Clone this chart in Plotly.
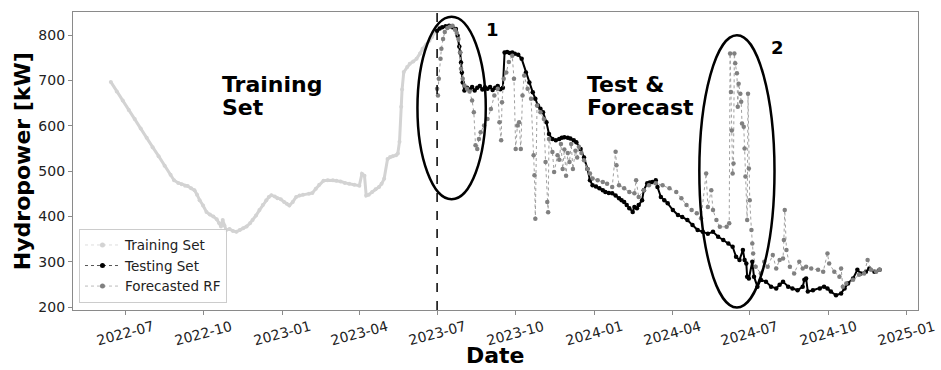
import plotly.graph_objects as go

# ---------------- data ----------------
train_dates = [
    "2022-06-14", "2022-06-21", "2022-06-28", "2022-07-05", "2022-07-12", "2022-07-19", "2022-07-26",
    "2022-08-02", "2022-08-09", "2022-08-16", "2022-08-23", "2022-08-27", "2022-09-01", "2022-09-05",
    "2022-09-09", "2022-09-12", "2022-09-16", "2022-09-20", "2022-09-23", "2022-09-26", "2022-09-30",
    "2022-10-04", "2022-10-08", "2022-10-12", "2022-10-16", "2022-10-19", "2022-10-21", "2022-10-23",
    "2022-10-25", "2022-10-27", "2022-10-31", "2022-11-04", "2022-11-08", "2022-11-12", "2022-11-16",
    "2022-11-20", "2022-11-24", "2022-11-27", "2022-12-01", "2022-12-05", "2022-12-09", "2022-12-13",
    "2022-12-16", "2022-12-19", "2022-12-23", "2022-12-26", "2022-12-30", "2023-01-03", "2023-01-06",
    "2023-01-09", "2023-01-13", "2023-01-17", "2023-01-21", "2023-01-25", "2023-02-01", "2023-02-05",
    "2023-02-09", "2023-02-13", "2023-02-18", "2023-02-23", "2023-03-01", "2023-03-05", "2023-03-10",
    "2023-03-15", "2023-03-20", "2023-03-26", "2023-04-01", "2023-04-04", "2023-04-07", "2023-04-09",
    "2023-04-12", "2023-04-16", "2023-04-20", "2023-04-24", "2023-04-27", "2023-04-30", "2023-05-04",
    "2023-05-07", "2023-05-10", "2023-05-14", "2023-05-16", "2023-05-18", "2023-05-20", "2023-05-21",
    "2023-05-23", "2023-05-27", "2023-05-30", "2023-06-03", "2023-06-07", "2023-06-11", "2023-06-14",
    "2023-06-18", "2023-06-22", "2023-06-25", "2023-06-28",
]
train_vals = [
    697, 676, 656, 635, 615, 594, 574,
    553, 533, 512, 492, 480, 474, 471,
    468, 467, 462, 458, 448, 436, 424,
    410, 404, 400, 394, 385, 378, 392,
    380, 370, 372, 368, 366, 370, 374,
    378, 385, 392, 402, 414, 425, 436,
    443, 447, 444, 440, 438, 432, 428,
    424, 432, 443, 446, 448, 450, 452,
    461, 470, 479, 480, 480, 479, 477,
    474, 472, 470, 468, 494, 490, 446,
    448, 454, 460, 465, 472, 483, 527,
    531, 533, 535, 539, 565, 642, 680,
    719, 730, 737, 742, 748, 760, 770,
    779, 788, 796, 806,
]

test_dates = [
    "2023-07-01", "2023-07-04", "2023-07-07", "2023-07-11", "2023-07-15", "2023-07-19", "2023-07-23",
    "2023-07-25", "2023-07-27", "2023-07-28", "2023-07-29", "2023-07-30", "2023-07-31", "2023-08-02",
    "2023-08-05", "2023-08-08", "2023-08-11", "2023-08-14", "2023-08-17", "2023-08-20", "2023-08-23",
    "2023-08-26", "2023-08-29", "2023-09-01", "2023-09-04", "2023-09-07", "2023-09-10", "2023-09-13",
    "2023-09-16", "2023-09-18", "2023-09-21", "2023-09-24", "2023-09-27", "2023-09-30", "2023-10-04",
    "2023-10-08", "2023-10-13", "2023-10-17", "2023-10-21", "2023-10-24", "2023-10-27", "2023-10-30",
    "2023-11-02", "2023-11-06", "2023-11-09", "2023-11-13", "2023-11-17", "2023-11-21", "2023-11-24",
    "2023-11-27", "2023-12-01", "2023-12-04", "2023-12-08", "2023-12-11", "2023-12-16", "2023-12-20",
    "2023-12-24", "2023-12-27", "2023-12-30", "2024-01-03", "2024-01-07", "2024-01-11", "2024-01-14",
    "2024-01-18", "2024-01-22", "2024-01-26", "2024-01-30", "2024-02-02", "2024-02-05", "2024-02-08",
    "2024-02-11", "2024-02-15", "2024-02-17", "2024-02-20", "2024-02-22", "2024-02-26", "2024-02-28",
    "2024-03-03", "2024-03-06", "2024-03-09", "2024-03-13", "2024-03-15", "2024-03-19", "2024-03-23",
    "2024-03-27", "2024-04-02", "2024-04-08", "2024-04-13", "2024-04-19", "2024-04-25", "2024-05-01",
    "2024-05-07", "2024-05-13", "2024-05-19", "2024-05-25", "2024-05-31", "2024-06-06", "2024-06-11",
    "2024-06-15", "2024-06-19", "2024-06-23", "2024-06-25", "2024-06-27", "2024-06-28", "2024-06-30",
    "2024-07-04", "2024-07-06", "2024-07-10", "2024-07-14", "2024-07-20", "2024-07-26", "2024-08-01",
    "2024-08-05", "2024-08-09", "2024-08-15", "2024-08-20", "2024-08-26", "2024-09-01", "2024-09-03",
    "2024-09-05", "2024-09-07", "2024-09-13", "2024-09-21", "2024-09-26", "2024-09-30", "2024-10-04",
    "2024-10-10", "2024-10-16", "2024-10-20", "2024-10-24", "2024-10-30", "2024-11-04", "2024-11-08",
    "2024-11-14", "2024-11-18", "2024-11-24", "2024-11-30",
]
test_vals = [
    810, 815, 818, 820, 821, 818, 814,
    799, 775, 762, 740, 718, 696, 678,
    684, 680, 686, 678, 684, 688, 680,
    685, 682, 686, 679, 684, 688, 681,
    684, 762, 763, 761, 762, 759, 757,
    748, 718, 696, 674, 660, 645, 638,
    630, 608, 582, 571, 568, 571, 574,
    575, 574, 572, 568, 564, 549, 530,
    505, 480, 469, 466, 462, 458, 454,
    452, 451, 446, 440, 436, 432, 425,
    418, 410, 421, 418, 425, 436, 458,
    473, 475, 476, 480, 465, 443, 436,
    429, 414, 403, 399, 392, 381, 370,
    366, 362, 366, 355, 348, 340, 333,
    311, 304, 326, 304, 296, 267, 263,
    300, 267, 245, 260, 256, 245, 241,
    249, 256, 245, 241, 237, 245, 260,
    263, 234, 237, 241, 245, 241, 234,
    226, 230, 241, 252, 263, 282, 274,
    278, 285, 278, 282,
]

fc_dates = [
    "2023-07-01", "2023-07-02", "2023-07-03", "2023-07-05", "2023-07-06", "2023-07-08", "2023-07-10",
    "2023-07-13", "2023-07-16", "2023-07-19", "2023-07-22", "2023-07-24", "2023-07-26", "2023-07-28",
    "2023-07-29", "2023-07-31", "2023-08-02", "2023-08-05", "2023-08-08", "2023-08-11", "2023-08-13",
    "2023-08-15", "2023-08-17", "2023-08-19", "2023-08-21", "2023-08-25", "2023-08-29", "2023-09-02",
    "2023-09-06", "2023-09-10", "2023-09-12", "2023-09-14", "2023-09-15", "2023-09-17", "2023-09-20",
    "2023-09-23", "2023-09-27", "2023-09-29", "2023-10-01", "2023-10-03", "2023-10-05", "2023-10-07",
    "2023-10-09", "2023-10-11", "2023-10-15", "2023-10-19", "2023-10-22", "2023-10-23", "2023-10-24",
    "2023-10-26", "2023-10-30", "2023-11-03", "2023-11-05", "2023-11-07", "2023-11-08", "2023-11-09",
    "2023-11-13", "2023-11-15", "2023-11-19", "2023-11-21", "2023-11-23", "2023-11-25", "2023-11-27",
    "2023-11-29", "2023-12-01", "2023-12-03", "2023-12-05", "2023-12-07", "2023-12-10", "2023-12-12",
    "2023-12-14", "2023-12-17", "2023-12-20", "2023-12-24", "2023-12-27", "2023-12-30", "2024-01-05",
    "2024-01-11", "2024-01-16", "2024-01-22", "2024-01-26", "2024-01-27", "2024-01-30", "2024-02-05",
    "2024-02-11", "2024-02-17", "2024-02-19", "2024-02-22", "2024-02-28", "2024-03-05", "2024-03-13",
    "2024-03-21", "2024-03-29", "2024-04-06", "2024-04-12", "2024-04-18", "2024-04-24", "2024-04-30",
    "2024-05-05", "2024-05-11", "2024-05-13", "2024-05-17", "2024-05-19", "2024-05-23", "2024-05-27",
    "2024-06-04", "2024-06-07", "2024-06-08", "2024-06-09", "2024-06-10", "2024-06-11", "2024-06-12",
    "2024-06-13", "2024-06-14", "2024-06-16", "2024-06-17", "2024-06-18", "2024-06-20", "2024-06-21",
    "2024-06-22", "2024-06-24", "2024-06-25", "2024-06-26", "2024-06-28", "2024-06-29", "2024-06-30",
    "2024-07-01", "2024-07-03", "2024-07-04", "2024-07-05", "2024-07-08", "2024-07-14", "2024-07-18",
    "2024-07-22", "2024-07-28", "2024-08-01", "2024-08-05", "2024-08-09", "2024-08-10", "2024-08-11",
    "2024-08-13", "2024-08-17", "2024-08-22", "2024-08-28", "2024-09-01", "2024-09-05", "2024-09-11",
    "2024-09-19", "2024-09-25", "2024-09-30", "2024-10-02", "2024-10-08", "2024-10-14", "2024-10-16",
    "2024-10-18", "2024-10-22", "2024-10-30", "2024-11-06", "2024-11-12", "2024-11-16", "2024-11-20",
    "2024-11-26", "2024-11-30",
]
fc_vals = [
    682, 667, 704, 748, 770, 792, 807,
    816, 819, 821, 812, 805, 792, 762,
    726, 704, 689, 682, 676, 656, 630,
    557, 549, 571, 586, 601, 615, 637,
    667, 682, 608, 568, 652, 704, 718,
    741, 755, 704, 549, 601, 608, 549,
    667, 711, 682, 660, 535, 491, 395,
    645, 630, 615, 520, 432, 409, 571,
    542, 498, 535, 525, 560, 505, 548,
    490, 540, 520, 560, 505, 545, 530,
    554, 540, 524, 505, 495, 484, 480,
    476, 472, 465, 543, 513, 469, 462,
    454, 451, 480, 443, 458, 469, 473,
    469, 462, 454, 440, 425, 414, 407,
    396, 495, 421, 458, 414, 392, 377,
    377, 385, 760, 675, 590, 495, 517,
    760, 738, 716, 642, 693, 671, 653,
    605, 598, 550, 488, 392, 671, 506,
    436, 370, 340, 318, 289, 274, 300,
    289, 315, 285, 304, 307, 348, 414,
    326, 289, 274, 300, 285, 289, 285,
    282, 278, 318, 296, 278, 267, 285,
    245, 252, 260, 271, 274, 304, 282,
    278, 282,
]

x_tick_dates = ["2022-07-01", "2022-10-01", "2023-01-01", "2023-04-01", "2023-07-01",
                "2023-10-01", "2024-01-01", "2024-04-01", "2024-07-01", "2024-10-01", "2025-01-01"]
x_tick_labels = ["2022-07", "2022-10", "2023-01", "2023-04", "2023-07",
                 "2023-10", "2024-01", "2024-04", "2024-07", "2024-10", "2025-01"]
y_tick_vals = [200, 300, 400, 500, 600, 700, 800]

split_date = "2023-07-01"

# ---------------- styles ----------------
FONT = "DejaVu Sans"
C_TRAIN = "#d3d3d3"
C_TEST = "#000000"
C_FC = "#808080"
FRAME = "#8a8a8a"
TXT = "#222222"

fig = go.Figure()

fig.add_trace(go.Scatter(
    x=train_dates, y=train_vals, mode="lines+markers", name="Training Set", showlegend=False,
    line=dict(color=C_TRAIN, width=3), marker=dict(color=C_TRAIN, size=4)))
fig.add_trace(go.Scatter(
    x=test_dates, y=test_vals, mode="lines+markers", name="Testing Set", showlegend=False,
    line=dict(color=C_TEST, width=2), marker=dict(color=C_TEST, size=4.5)))
fig.add_trace(go.Scatter(
    x=fc_dates, y=fc_vals, mode="lines+markers", name="Forecasted RF", showlegend=False,
    line=dict(color="#a0a0a0", width=1, dash="dot"), marker=dict(color=C_FC, size=4.5)))

# legend entries (style only)
for nm, col, lc in [("Training Set", C_TRAIN, "#dddddd"), ("Testing Set", C_TEST, "#555555"),
                    ("Forecasted RF", C_FC, "#bbbbbb")]:
    fig.add_trace(go.Scatter(x=[None], y=[None], mode="lines+markers", name=nm,
                             line=dict(color=lc, width=1, dash="dot"),
                             marker=dict(color=col, size=5)))

shapes = [
    dict(type="line", xref="x", yref="paper", x0=split_date, x1=split_date, y0=0, y1=1,
         line=dict(color="black", width=1.5, dash="dash")),
    dict(type="circle", xref="x", yref="y", x0="2023-06-08", x1="2023-08-27", y0=438, y1=841,
         line=dict(color="black", width=2.5)),
    dict(type="circle", xref="x", yref="y", x0="2024-05-03", x1="2024-07-30", y0=199, y1=800,
         line=dict(color="black", width=2.5)),
]

annotations = []
for d, lab in zip(x_tick_dates, x_tick_labels):
    annotations.append(dict(x=d, y=0, xref="x", yref="paper", text=lab, showarrow=False,
                            textangle=-15, xanchor="center", yanchor="top", yshift=-5,
                            font=dict(family=FONT, size=14, color=TXT)))

big = dict(family=FONT, size=22, color="black")
for txt, xp, yp in [("<b>Training</b>", 0.1736, 0.7576), ("<b>Set</b>", 0.1736, 0.6806),
                    ("<b>Test &amp;</b>", 0.6056, 0.7576), ("<b>Forecast</b>", 0.6056, 0.678)]:
    annotations.append(dict(x=xp, y=yp, xref="paper", yref="paper", text=txt, showarrow=False,
                            xanchor="left", yanchor="middle", font=big))
for txt, xp, yp in [("<b>1</b>", 0.4967, 0.942), ("<b>2</b>", 0.8338, 0.8817)]:
    annotations.append(dict(x=xp, y=yp, xref="paper", yref="paper", text=txt, showarrow=False,
                            xanchor="center", yanchor="middle",
                            font=dict(family=FONT, size=18, color="black")))

annotations.append(dict(x=0.5, y=-0.154, xref="paper", yref="paper", text="<b>Date</b>",
                        showarrow=False, xanchor="center", yanchor="middle", font=big))
annotations.append(dict(x=-0.0601, y=0.5, xref="paper", yref="paper", text="<b>Hydropower [kW]</b>",
                        showarrow=False, xanchor="center", yanchor="middle", textangle=-90, font=big))

fig.update_layout(
    width=941, height=370, autosize=False,
    margin=dict(l=73, r=23, t=12, b=60),
    paper_bgcolor="white", plot_bgcolor="white",
    font=dict(family=FONT, size=14, color=TXT),
    shapes=shapes, annotations=annotations,
    legend=dict(x=0.0071, y=0.0245, xanchor="left", yanchor="bottom",
                bgcolor="rgba(255,255,255,0.85)", bordercolor="#cccccc", borderwidth=1,
                font=dict(family=FONT, size=13.5, color=TXT), tracegroupgap=0, itemwidth=35),
    xaxis=dict(type="date", range=["2022-04-30 18:00", "2025-01-14"],
               tickvals=x_tick_dates, showticklabels=False, ticks="outside", ticklen=4,
               tickcolor=FRAME, showgrid=False, zeroline=False,
               showline=True, mirror=True, linecolor=FRAME, linewidth=1.2),
    yaxis=dict(range=[193.4, 851.4], tickvals=y_tick_vals, ticks="outside", ticklen=4,
               tickcolor=FRAME, showgrid=False, zeroline=False,
               showline=True, mirror=True, linecolor=FRAME, linewidth=1.2,
               tickfont=dict(family=FONT, size=14, color=TXT)),
)

fig.write_html("out.html", config=dict(displayModeBar=False),
               post_script="document.body.style.margin='0';document.body.style.padding='0';")
